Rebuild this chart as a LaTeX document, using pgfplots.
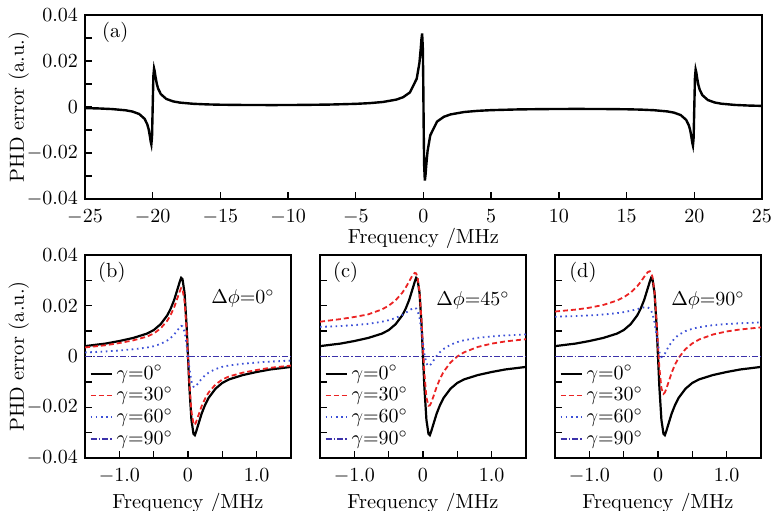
\documentclass[border=0pt]{standalone}
\usepackage{pgfplots}
\pgfplotsset{compat=1.18}
\usepackage{pgfplotstable}

\definecolor{cred}{RGB}{235,35,35}
\definecolor{cblue}{RGB}{60,80,215}
\definecolor{cpurp}{RGB}{60,50,170}

% full spectrum, panel (a)
\pgfplotstableread{
x y
-25 -0.00048
-24 -0.00063
-23 -0.0009
-22 -0.00143
-21.5 -0.00197
-21 -0.00304
-20.6 -0.00512
-20.4 -0.00754
-20.3 -0.00966
-20.2 -0.01296
-20.15 -0.01499
-20.1 -0.01626
-20.05 -0.01296
-20 0.00024
-19.95 0.01344
-19.9 0.01674
-19.85 0.01547
-19.8 0.01344
-19.7 0.01014
-19.6 0.00801
-19.4 0.0056
-19 0.00352
-18.5 0.00245
-18 0.00192
-17 0.00139
-16 0.00113
-15 0.00099
-13 0.00086
-11 0.00084
-9 0.0009
-7 0.00105
-5 0.00137
-4 0.00167
-3 0.00218
-2 0.00322
-1.5 0.00427
-1 0.00635
-0.5 0.01231
-0.3 0.0192
-0.2 0.0256
-0.15 0.02954
-0.1 0.032
-0.05 0.0256
-0.02 0.0123
0 0
0.02 -0.0123
0.05 -0.0256
0.1 -0.032
0.15 -0.02954
0.2 -0.0256
0.3 -0.0192
0.5 -0.01231
1 -0.00635
1.5 -0.00427
2 -0.00322
3 -0.00218
4 -0.00167
5 -0.00137
7 -0.00105
9 -0.0009
11 -0.00084
13 -0.00086
15 -0.00099
16 -0.00113
17 -0.00139
18 -0.00192
18.5 -0.00245
19 -0.00352
19.4 -0.0056
19.6 -0.00801
19.7 -0.01014
19.8 -0.01344
19.85 -0.01547
19.9 -0.01674
19.95 -0.01344
20 -0.00024
20.05 0.01296
20.1 0.01626
20.15 0.01499
20.2 0.01296
20.3 0.00966
20.4 0.00754
20.6 0.00512
21 0.00304
21.5 0.00197
22 0.00143
23 0.0009
24 0.00063
25 0.00048
}\fulltab

% zoomed curves, panels (b)-(d); g0 is the same in all three
\pgfplotstableread{
x g0 b30 b60 c30 c60 d30 d60
-1.5 0.0041 0.00357 0.0016 0.01372 0.01167 0.01773 0.01569
-1.2 0.0051 0.00444 0.00199 0.01475 0.01202 0.01849 0.01594
-1.0 0.0061 0.00531 0.00238 0.01558 0.01237 0.01922 0.01618
-0.8 0.0073 0.00635 0.00285 0.01659 0.01288 0.0203 0.01654
-0.6 0.0090 0.00783 0.00351 0.01854 0.01369 0.02202 0.01709
-0.5 0.0104 0.00905 0.00406 0.02003 0.01432 0.02333 0.01748
-0.4 0.0127 0.01105 0.00495 0.02212 0.01518 0.02515 0.01801
-0.3 0.0163 0.01418 0.00636 0.02519 0.01642 0.02777 0.0187
-0.25 0.0190 0.01653 0.00741 0.02725 0.01723 0.0295 0.01908
-0.2 0.0224 0.01949 0.00874 0.02968 0.01816 0.03145 0.0194
-0.15 0.0268 0.02332 0.01045 0.03212 0.019 0.03324 0.01937
-0.12 0.0295 0.02567 0.0115 0.03296 0.01917 0.0336 0.01886
-0.1 0.0310 0.02697 0.01209 0.03275 0.0189 0.03305 0.0181
-0.08 0.0305 0.02654 0.0119 0.03134 0.01808 0.03133 0.01679
-0.05 0.0250 0.02175 0.00975 0.02542 0.01516 0.02521 0.0134
-0.02 0.0120 0.01044 0.00468 0.01347 0.0097 0.01373 0.00825
0 0 0 0 0.0032 0.0052 0.00425 0.0046
0.02 -0.0120 -0.01044 -0.00468 -0.00653 0.00108 -0.00443 0.00171
0.05 -0.0250 -0.02175 -0.00975 -0.01618 -0.00276 -0.01255 -0.0002
0.08 -0.0305 -0.02654 -0.0119 -0.0194 -0.00378 -0.01471 0.00021
0.1 -0.0310 -0.02697 -0.01209 -0.01925 -0.0035 -0.01415 0.0011
0.12 -0.0295 -0.02567 -0.0115 -0.01818 -0.00287 -0.01282 0.00214
0.15 -0.0268 -0.02332 -0.01045 -0.01588 -0.00168 -0.01034 0.00367
0.2 -0.0224 -0.01949 -0.00874 -0.0119 0.00024 -0.00631 0.0058
0.25 -0.0190 -0.01653 -0.00741 -0.00861 0.00179 -0.00306 0.00736
0.3 -0.0163 -0.01418 -0.00636 -0.00601 0.00298 -0.00055 0.0085
0.4 -0.0127 -0.01105 -0.00495 -0.00236 0.00464 0.00293 0.01001
0.5 -0.0104 -0.00905 -0.00406 0.00003 0.0057 0.00517 0.01094
0.6 -0.0090 -0.00783 -0.00351 0.00168 0.00643 0.00672 0.01157
0.8 -0.0073 -0.00635 -0.00285 0.00379 0.00736 0.00868 0.01236
1.0 -0.0061 -0.00531 -0.00238 0.00508 0.00793 0.00988 0.01282
1.2 -0.0051 -0.00444 -0.00199 0.00595 0.00832 0.01067 0.01312
1.5 -0.0041 -0.00357 -0.0016 0.00682 0.00869 0.01147 0.01343
}\zoomtab

\tikzset{
  g0/.style={draw=black, line width=1.1pt},
  g30/.style={draw=cred, line width=0.9pt, dash pattern=on 2.5pt off 1.5pt},
  g60/.style={draw=cblue, line width=0.9pt, dash pattern=on 0.8pt off 1.8pt},
  g90/.style={draw=cpurp, line width=0.9pt, dash pattern=on 3pt off 1pt on 0.8pt off 1pt},
}

\pgfplotsset{
  phd/.style={
    scale only axis,
    font=\fontsize{10.2}{12}\selectfont,
    axis line style={line width=0.8pt},
    every tick/.style={black, line width=0.7pt},
    tick align=inside, tick pos=left,
    major tick length=3.5pt, minor tick length=3.5pt,
    ymin=-0.04, ymax=0.04,
    ytick={-0.04,-0.02,0,0.02,0.04},
    minor ytick={-0.03,-0.01,0.01,0.03},
    scaled y ticks=false,
    yticklabels={$-0.04$,$-0.02$,$0$,$0.02$,$0.04$},
    xticklabel style={yshift=-2pt},
    xlabel={Frequency /MHz},
    ylabel={PHD error (a.u.)},
    ylabel shift=-8pt,
  },
  lower/.style={
    phd, width=103pt, height=101.5pt,
    xlabel shift=-2pt,
    xmin=-1.5, xmax=1.5,
    xtick={-1,0,1}, xticklabels={$-1.0$,$0$,$1.0$},
    minor xtick={-0.5,0.5},
    legend cell align=left,
    legend style={at={(0.02,0.03)}, anchor=south west, draw=none, fill=none,
      inner sep=0pt, row sep=-1.5pt, font=\fontsize{10.2}{12}\selectfont},
    legend image code/.code={\draw[#1] (0pt,0pt) -- (10.5pt,0pt);},
  },
}

\begin{document}
\begin{tikzpicture}
\path[use as bounding box] (0pt,0pt) rectangle (386pt,255pt);

\begin{axis}[phd, at={(42.5pt,155.5pt)}, anchor=south west,
  width=338.5pt, height=92pt, xlabel shift=-5pt,
  xmin=-25, xmax=25, xtick={-25,-20,...,25}]
\addplot[black, line width=1.2pt] table[x=x, y=y] {\fulltab};
\node[anchor=west] at (rel axis cs:0.015,0.905) {(a)};
\end{axis}

\begin{axis}[lower, at={(42.5pt,26pt)}, anchor=south west]
\addplot[g0] table[x=x, y=g0] {\zoomtab};
\addplot[g30] table[x=x, y=b30] {\zoomtab};
\addplot[g60] table[x=x, y=b60] {\zoomtab};
\addplot[g90] coordinates {(-1.5,0) (1.5,0)};
\legend{$\gamma{=}0^{\circ}$, $\gamma{=}30^{\circ}$, $\gamma{=}60^{\circ}$, $\gamma{=}90^{\circ}$}
\node[anchor=west] at (rel axis cs:0.03,0.915) {(b)};
\node[anchor=east] at (rel axis cs:0.955,0.785) {$\Delta\phi{=}0^{\circ}$};
\end{axis}

\begin{axis}[lower, at={(160pt,26pt)}, anchor=south west,
  yticklabels={}, ylabel={}]
\addplot[g0] table[x=x, y=g0] {\zoomtab};
\addplot[g30] table[x=x, y=c30] {\zoomtab};
\addplot[g60] table[x=x, y=c60] {\zoomtab};
\addplot[g90] coordinates {(-1.5,0) (1.5,0)};
\legend{$\gamma{=}0^{\circ}$, $\gamma{=}30^{\circ}$, $\gamma{=}60^{\circ}$, $\gamma{=}90^{\circ}$}
\node[anchor=west] at (rel axis cs:0.03,0.915) {(c)};
\node[anchor=east] at (rel axis cs:0.955,0.775) {$\Delta\phi{=}45^{\circ}$};
\end{axis}

\begin{axis}[lower, at={(277.5pt,26pt)}, anchor=south west,
  yticklabels={}, ylabel={}]
\addplot[g0] table[x=x, y=g0] {\zoomtab};
\addplot[g30] table[x=x, y=d30] {\zoomtab};
\addplot[g60] table[x=x, y=d60] {\zoomtab};
\addplot[g90] coordinates {(-1.5,0) (1.5,0)};
\legend{$\gamma{=}0^{\circ}$, $\gamma{=}30^{\circ}$, $\gamma{=}60^{\circ}$, $\gamma{=}90^{\circ}$}
\node[anchor=west] at (rel axis cs:0.035,0.915) {(d)};
\node[anchor=east] at (rel axis cs:0.955,0.775) {$\Delta\phi{=}90^{\circ}$};
\end{axis}
\end{tikzpicture}
\end{document}
